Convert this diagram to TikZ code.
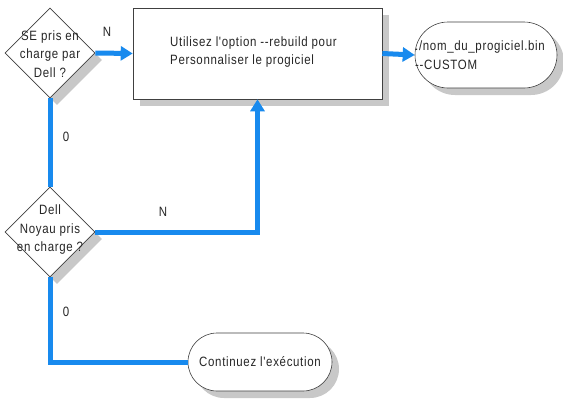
\documentclass[tikz,border=0pt]{standalone}
\usepackage{fontspec}
\newfontfamily\dfont{Liberation Sans}[FakeStretch=0.85, LetterSpace=5]
\usetikzlibrary{shapes.geometric,shapes.misc,shadows,arrows.meta}
\definecolor{flowblue}{RGB}{24,138,238}
\definecolor{shadowgray}{RGB}{200,200,200}
\begin{document}
\begin{tikzpicture}[x=1pt,y=-1pt,
  every node/.style={font=\dfont\fontsize{13.5}{18.5}\selectfont, text=black!85},
  shd/.style={general shadow={shadow xshift=7pt, shadow yshift=-7pt, fill=shadowgray}},
  dia/.style={shape=diamond, draw=black!75, line width=0.6pt, fill=white, minimum width=90pt, minimum height=90pt, inner sep=0pt, shd},
  box/.style={shape=rectangle, draw=black!75, line width=0.6pt, fill=white, minimum width=249pt, minimum height=91pt, inner sep=0pt, shd},
  term/.style={shape=rounded rectangle, draw=black!75, line width=0.6pt, fill=white, inner sep=0pt, shd},
  flow/.style={draw=flowblue, line width=5pt},
  flowarrow/.style={flow, -{Triangle[length=12pt,width=14pt]}},
  lbl/.style={inner sep=0pt}
]
\useasboundingbox[fill=white] (0,0) rectangle (563,402);

\node[dia] (d1) at (50,53) {};
\node[align=center, inner sep=0pt] (d1t) at (50,54) {SE pris en\\charge par\\Dell ?};

\node[box] (rect) at (257.5,53.5) {};
\node[align=left, anchor=west, inner sep=0pt] (rectt) at (170,52) {Utilisez l'option --rebuild pour\\Personnaliser le progiciel};

\node[term, minimum width=142pt, minimum height=66pt] (t1) at (486,55) {};
\node[align=left, anchor=west, inner sep=0pt] (t1t) at (415,55) {./nom\_du\_progiciel.bin\\--CUSTOM};

\node[dia] (d2) at (50,232) {};
\node[align=center, inner sep=0pt] (d2t) at (50,230) {Dell\\Noyau pris\\en charge ?};

\node[term, minimum width=144pt, minimum height=58pt] (t2) at (260,362) {Continuez l'exécution};

\draw[flowarrow] (d1.east) -- (rect.west);
\draw[flowarrow] (rect.east) -- (t1.west);
\draw[flow] (d1.south) -- (d2.north);
\draw[flowarrow] (d2.east) -| (rect.south);
\draw[flow] (d2.south) |- (t2.west);

\node[lbl] (n1) at (107,32) {N};
\node[lbl] (o1) at (66,137) {0};
\node[lbl] (n2) at (163,212) {N};
\node[lbl] (o2) at (66,312) {0};
\end{tikzpicture}
\end{document}
